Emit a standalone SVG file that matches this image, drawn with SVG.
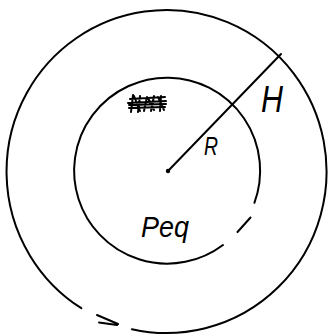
<svg xmlns="http://www.w3.org/2000/svg" width="331" height="336" viewBox="0 0 331 336">
<style>
.ln{fill:none;stroke:#000;stroke-width:2;stroke-linecap:round;stroke-linejoin:round}
.hw{font-family:"Liberation Sans",sans-serif;font-style:italic;fill:#000}
</style>
<rect width="331" height="336" fill="#fff"/>
<g id="outer-circle">
<path class="ln" d="M131.9,329.2 A160,161.5 0 1 0 81.3,308.2"/>
<path class="ln" d="M97,315 L118,324 M99,322.5 L117,325"/>
</g>
<g id="inner-circle">
<path class="ln" d="M223,245 A93,93 0 1 1 254.4,202.8"/>
<path class="ln" d="M237.5,232 L250.5,217.5"/>
</g>
<g id="connectors">
<line class="ln" x1="168" y1="171" x2="281" y2="54"/>
<circle cx="168" cy="171" r="2.2" fill="#000"/>
</g>
<g id="scribble">
<path class="ln" stroke-width="2" d="M128,103 L166,101 M129,108 L165,107 M133,95 L131,112 M140,96 L138,112 M147,97 L144,111 M154,96 L151,111 M161,96 L160,111 M134,96 L140,111 M148,98 L154,110 M158,97 L164,110 M130,99 L165,97 M129,105 L166,104"/>
</g>
<g id="labels">
<text class="hw" x="261" y="112" font-size="36" textLength="22" lengthAdjust="spacingAndGlyphs">H</text>
<text class="hw" x="204" y="155" font-size="25" textLength="14" lengthAdjust="spacingAndGlyphs">R</text>
<text class="hw" x="141" y="237" font-size="29" textLength="48" lengthAdjust="spacingAndGlyphs">Peq</text>
</g>
</svg>
